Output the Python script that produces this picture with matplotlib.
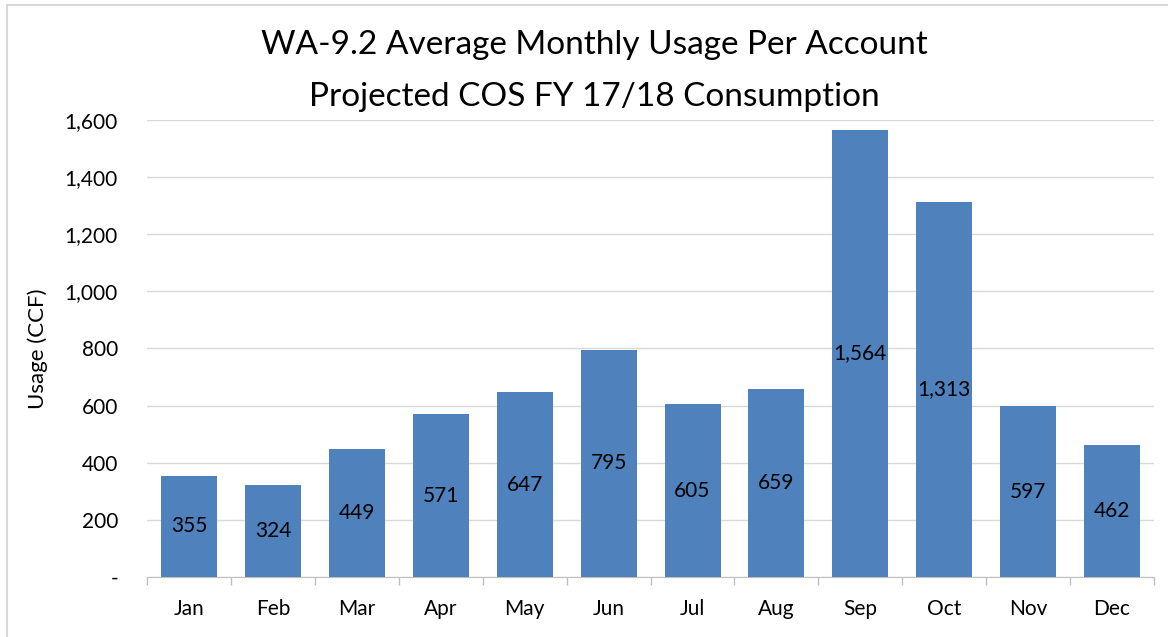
import matplotlib.pyplot as plt
import numpy as np
from matplotlib.patches import Rectangle
from matplotlib.ticker import FuncFormatter

plt.rcParams['font.family'] = ['Lato', 'DejaVu Sans']

months = ['Jan', 'Feb', 'Mar', 'Apr', 'May', 'Jun', 'Jul', 'Aug', 'Sep', 'Oct', 'Nov', 'Dec']
usage = [355, 324, 449, 571, 647, 795, 605, 659, 1564, 1313, 597, 462]
y_ticks = [0, 200, 400, 600, 800, 1000, 1200, 1400, 1600]
title_lines = ['WA-9.2 Average Monthly Usage Per Account', 'Projected COS FY 17/18 Consumption']


def fmt_usage(v, pos):
    # Excel accounting style: zero shown as a dash
    if v == 0:
        return '-'
    return f"{int(v):,}"


fig = plt.figure(figsize=(11.68, 6.37), dpi=100)
ax = fig.add_axes([0.126, 0.094, 0.862, 0.718])

x = np.arange(len(months))
ax.bar(x, usage, width=0.667, color='#4F81BD', zorder=3)

# data labels in the middle of each bar
for xi, v in zip(x, usage):
    ax.text(xi, v / 2, f"{v:,}", ha='center', va='center', fontsize=15, color='black', zorder=4)

ax.set_xlim(-0.5, len(months) - 0.5)
ax.set_ylim(0, 1600)
ax.set_yticks(y_ticks)
ax.yaxis.set_major_formatter(FuncFormatter(fmt_usage))
ax.set_xticks(x)
ax.set_xticklabels(months)
ax.set_xticks(np.arange(-0.5, len(months)), minor=True)

ax.tick_params(axis='y', length=0, pad=21, labelsize=15)
ax.tick_params(axis='x', which='major', length=0, pad=16, labelsize=15)
ax.tick_params(axis='x', which='minor', length=6, color='#BFBFBF', width=1)

ax.grid(axis='y', color='#D9D9D9', linewidth=1, zorder=0)
for side in ['top', 'right', 'left']:
    ax.spines[side].set_visible(False)
ax.spines['bottom'].set_color('#BFBFBF')

ax.set_ylabel('Usage (CCF)', fontsize=16, labelpad=12)

fig.text(0.509, 0.929, title_lines[0], ha='center', va='center', fontsize=24)
fig.text(0.509, 0.848, title_lines[1], ha='center', va='center', fontsize=24)

# chart area border (right and bottom edges fall outside the image)
fig.patches.append(Rectangle((0.006, -0.1), 1.2, 1.092, transform=fig.transFigure,
                             fill=False, edgecolor='#D9D9D9', linewidth=1.5))

fig.savefig('out.png', dpi=100)
